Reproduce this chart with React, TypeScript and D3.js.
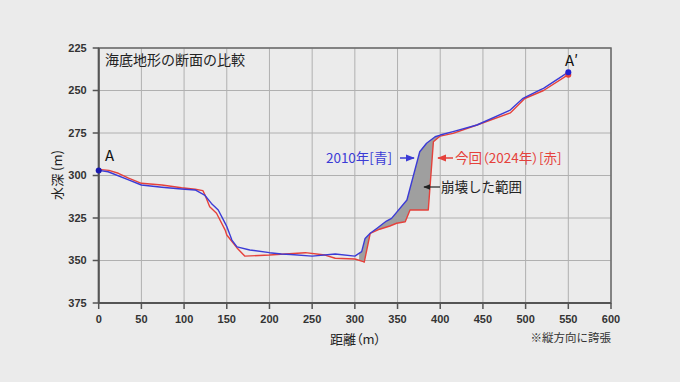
import React from "react";
import * as d3 from "d3";

const xTicks = [0, 50, 100, 150, 200, 250, 300, 350, 400, 450, 500, 550, 600];
const yTicks = [225, 250, 275, 300, 325, 350, 375];

const blueDist = [0, 11, 35, 50, 74, 97, 113, 124, 132, 140, 148, 150, 156, 162, 177, 200, 214, 225, 250, 277, 300, 308, 312, 318, 326, 337, 343, 361, 376, 384, 394, 400, 415, 443, 482, 497, 501, 517, 521, 550];
const blueDepth = [297, 297.8, 302.6, 305.6, 306.9, 307.9, 308.5, 311.5, 316.4, 320.3, 328, 330, 338, 342, 343.8, 345.4, 346.2, 346.5, 347.4, 346.2, 347.4, 344.8, 337, 334, 331, 326.8, 325.2, 314.4, 286, 281, 277.2, 276.2, 274.2, 270.3, 261.5, 254.6, 253.6, 249.7, 248.7, 239.2];

const redDist = [0, 12, 23, 35, 50, 74, 97, 113, 122, 124.5, 130, 138, 148, 150, 162, 171, 200, 242, 265, 277, 300, 310, 311, 318, 329, 341, 349, 359, 364.6, 386, 392, 400, 415, 443, 482, 499, 521, 550];
const redDepth = [296.4, 297, 298.7, 301.6, 304.6, 305.6, 307.2, 308.1, 308.9, 311.5, 318.4, 322.2, 332, 335, 342.6, 347.4, 346.8, 345.4, 346.8, 348.7, 349.1, 350.7, 351, 334, 331.6, 329.7, 328.1, 327.2, 320.3, 320.3, 280.1, 276.8, 275.2, 270.3, 263.2, 254.7, 250, 240.7];

const collapseRange = [305, 400];

const W = 680, H = 382;
const L = 98.7, R = 611, T = 48, B = 303;
const BLUE = "#3b3bd6";
const RED = "#e5413b";
const JP = "'Noto Sans CJK JP', 'Noto Sans', sans-serif";
const NUM = "'Liberation Sans', Arial, sans-serif";

export default function App() {
  const x = d3.scaleLinear().domain([0, 600]).range([L, R]);
  const y = d3.scaleLinear().domain([225, 375]).range([T, B]);

  const blue = blueDist.map((d, i) => [d, blueDepth[i]] as [number, number]);
  const red = redDist.map((d, i) => [d, redDepth[i]] as [number, number]);

  const line = d3.line<[number, number]>().x(d => x(d[0])).y(d => y(d[1]));

  const interp = (ds: number[], vs: number[], d: number) => {
    for (let i = 0; i < ds.length - 1; i++) {
      if (d >= ds[i] && d <= ds[i + 1]) {
        const t = (d - ds[i]) / (ds[i + 1] - ds[i] || 1);
        return vs[i] + t * (vs[i + 1] - vs[i]);
      }
    }
    return vs[vs.length - 1];
  };
  const xs = Array.from(new Set([...blueDist, ...redDist, ...collapseRange]))
    .filter(d => d >= collapseRange[0] && d <= collapseRange[1])
    .sort((a, b) => a - b);
  const area = d3.area<number>()
    .x(d => x(d))
    .y0(d => y(Math.max(interp(redDist, redDepth, d), interp(blueDist, blueDepth, d))))
    .y1(d => y(interp(blueDist, blueDepth, d)));

  const endB = blue[blue.length - 1];
  const endR = red[red.length - 1];
  const palt = { fontFeatureSettings: "'palt'" } as React.CSSProperties;

  return (
    <svg width={W} height={H} style={{ position: "absolute", left: 0, top: 0, background: "#ebebeb" }}>
      <defs>
        <marker id="ahB" viewBox="0 0 10 10" refX="9" refY="5" markerWidth="6" markerHeight="6" orient="auto">
          <path d="M0,1 L10,5 L0,9 z" fill={BLUE} />
        </marker>
        <marker id="ahR" viewBox="0 0 10 10" refX="9" refY="5" markerWidth="6" markerHeight="6" orient="auto">
          <path d="M0,1 L10,5 L0,9 z" fill={RED} />
        </marker>
        <marker id="ahK" viewBox="0 0 10 10" refX="9" refY="5" markerWidth="6" markerHeight="6" orient="auto">
          <path d="M0,1 L10,5 L0,9 z" fill="#222" />
        </marker>
      </defs>
      <rect x={0} y={0} width={W} height={H} fill="#ebebeb" />
      {xTicks.map(t => (
        <line key={"gx" + t} x1={x(t)} x2={x(t)} y1={T} y2={B} stroke="#b0b0b0" strokeWidth={1} />
      ))}
      {yTicks.map(t => (
        <line key={"gy" + t} x1={L} x2={R} y1={y(t)} y2={y(t)} stroke="#b0b0b0" strokeWidth={1} />
      ))}
      <rect x={L} y={T} width={R - L} height={B - T} fill="none" stroke="#6a6a6a" strokeWidth={1.5} />
      <line x1={L} x2={L} y1={T} y2={B} stroke="#555" strokeWidth={2} />
      <line x1={L} x2={R} y1={B} y2={B} stroke="#555" strokeWidth={2} />
      {yTicks.map(t => (
        <g key={"ty" + t}>
          <line x1={L - 6} x2={L} y1={y(t)} y2={y(t)} stroke="#555" strokeWidth={1.5} />
          <text x={L - 12} y={y(t)} dy="0.35em" textAnchor="end" fontFamily={NUM} fontWeight="bold" fontSize={11} fill="#333">{t}</text>
        </g>
      ))}
      {xTicks.map(t => (
        <g key={"tx" + t}>
          <line x1={x(t)} x2={x(t)} y1={B} y2={B + 6} stroke="#555" strokeWidth={1.5} />
          <text x={x(t)} y={B + 16} dy="0.35em" textAnchor="middle" fontFamily={NUM} fontWeight="bold" fontSize={11} fill="#333">{t}</text>
        </g>
      ))}
      <path d={area(xs) || ""} fill="#9f9f9f" stroke="none" />
      <path d={line(red) || ""} fill="none" stroke={RED} strokeWidth={1.4} strokeLinejoin="round" />
      <path d={line(blue) || ""} fill="none" stroke={BLUE} strokeWidth={1.4} strokeLinejoin="round" />
      <circle cx={x(blue[0][0])} cy={y(blue[0][1])} r={3} fill="#1a1ab0" />
      <circle cx={x(endR[0])} cy={y(endR[1])} r={3} fill={RED} />
      <circle cx={x(endB[0])} cy={y(endB[1])} r={3} fill="#2020d0" />
      <text x={105} y={60} dy="0.35em" fontFamily={JP} fontSize={14} fill="#222">海底地形の断面の比較</text>
      <text x={105} y={156} dy="0.35em" fontFamily={JP} fontSize={15} fill="#111">A</text>
      <text x={565} y={61} dy="0.35em" fontFamily={JP} fontSize={15} fill="#111">A′</text>
      <text x={392} y={158} dy="0.35em" textAnchor="end" fontFamily={JP} fontSize={13.5} fill={BLUE}>2010年[青]</text>
      <line x1={400} x2={414} y1={158} y2={158} stroke={BLUE} strokeWidth={1.5} markerEnd="url(#ahB)" />
      <line x1={453} x2={438} y1={158} y2={158} stroke={RED} strokeWidth={1.5} markerEnd="url(#ahR)" />
      <text x={455} y={158} dy="0.35em" fontFamily={JP} fontSize={13.5} fill={RED} style={palt}>今回（2024年）[赤]</text>
      <line x1={440} x2={424} y1={187} y2={187} stroke="#222" strokeWidth={1.2} markerEnd="url(#ahK)" />
      <text x={441} y={187} dy="0.35em" fontFamily={JP} fontSize={13.5} fill="#222">崩壊した範囲</text>
      <text x={330} y={339} dy="0.35em" fontFamily={JP} fontSize={13} fill="#222" style={palt}>距離（m）</text>
      <text x={611} y={338} dy="0.35em" textAnchor="end" fontFamily={JP} fontSize={11.5} fill="#333">※縦方向に誇張</text>
      <text transform={`translate(57,175) rotate(-90)`} dy="0.35em" textAnchor="middle" fontFamily={JP} fontSize={13} fill="#222">水深 (m)</text>
    </svg>
  );
}
